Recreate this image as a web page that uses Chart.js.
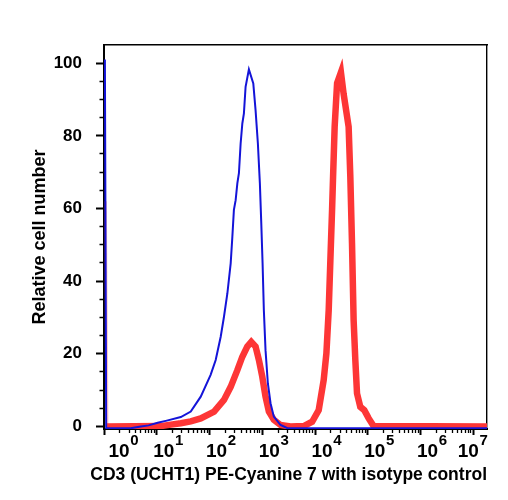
<!DOCTYPE html>
<html>
<head>
<meta charset="utf-8">
<script src="https://cdn.jsdelivr.net/npm/chart.js@4/dist/chart.umd.min.js"></script>
<style>
  html, body { margin: 0; padding: 0; background: #ffffff; }
  #wrap { width: 508px; height: 500px; }
</style>
</head>
<body>
<div id="wrap"><canvas id="c" width="508" height="500"></canvas></div>
<script>
// ---- data ----
const xDecades = [0, 1, 2, 3, 4, 5, 6, 7];          // tick labels 10^k
const yTickValues = [0,5,10,15,20,25,30,35,40,45,50,55,60,65,70,75,80,85,90,95,100];
const yLabelStep = 20;

const isotypeX = [1.04, 1.10, 3.2, 5.0, 7.0, 10.4, 15.5, 28.6, 44.1, 68.2, 105, 131, 163, 188, 218, 252, 271, 290, 313, 337, 361, 389, 419, 449, 483, 558, 676, 747, 826, 901, 958, 1014, 1072, 1153, 1276, 1435, 1657, 2218, 3000, 18200000];
const isotypeY = [101, -0.5, -0.5, 0, 0.3, 1.0, 1.6, 2.6, 4.1, 8.2, 14.2, 18.3, 24.7, 30.2, 36.6, 44.9, 52.2, 59.6, 62.3, 66.9, 69.7, 77.9, 83.4, 86.2, 93.5, 98.3, 94.4, 87, 77.9, 66.9, 55.9, 44.9, 32, 21, 11.9, 6.4, 2.7, 0.4, -0.5, -0.5];

const cd3X = [1.06, 1.14, 11.9, 18.5, 28.6, 44.1, 68.2, 122, 188, 252, 337, 419, 520, 619, 747, 863, 1000, 1153, 1334, 1657, 2218, 3428, 6114, 8810, 11750, 14600, 16430, 18170, 19550, 21050, 21990, 23570, 26200, 31000, 34900, 43370, 46700, 50260, 53920, 58070, 62520, 72140, 85900, 103500, 128700, 18200000];
const cd3Y = [62, 0, 0.1, 0.5, 0.9, 1.4, 2.2, 4.1, 7.3, 10.9, 15.5, 19.2, 22, 23.3, 22, 18.3, 13.7, 8.2, 4.1, 1.8, 0.4, 0, 0.1, 1.3, 4.5, 12.8, 20.1, 32, 45.8, 59.6, 68.7, 82.5, 94.5, 97.5, 91.5, 82.5, 68.7, 50.4, 29.3, 18.3, 9.1, 5.4, 4.5, 2.3, 0.1, 0];

const xTitle = 'CD3 (UCHT1) PE-Cyanine 7 with isotype control';
const yTitle = 'Relative cell number';

// ---- helpers ----
const FONT = '"Liberation Sans", Arial, Helvetica, sans-serif';
const X_MIN = 1, X_MAX = 18200000;
function toPoints(xs, ys) { return xs.map((x, i) => ({ x: x, y: ys[i] })); }
function isDecade(v) { const l = Math.log10(v); return Math.abs(l - Math.round(l)) < 1e-9; }

const xTicks = [];
xDecades.forEach(k => { for (let m = 1; m <= 9; m++) { const v = m * Math.pow(10, k); if (v >= X_MIN && v <= X_MAX) xTicks.push(v); } });

const decadeLabels = {
  id: 'decadeLabels',
  afterDraw(chart) {
    const sc = chart.scales.x, ctx = chart.ctx;
    ctx.save();
    ctx.fillStyle = '#000';
    ctx.textAlign = 'left';
    ctx.textBaseline = 'alphabetic';
    xDecades.forEach((k, i) => {
      const px = sc.getPixelForValue(Math.pow(10, k));
      let left = px - 3.5;
      if (i === 0) left = px + 4.5;
      if (i === xDecades.length - 1) left = px - 15.5;
      ctx.font = 'bold 19px ' + FONT;
      ctx.fillText('10', left, 457);
      const w = ctx.measureText('10').width;
      ctx.font = 'bold 15px ' + FONT;
      ctx.fillText(String(k), left + w + 0.5, 445);
    });
    ctx.restore();
  }
};

new Chart(document.getElementById('c'), {
  type: 'line',
  data: {
    datasets: [
      { label: 'Isotype control', data: toPoints(isotypeX, isotypeY), borderColor: '#1414d8', borderWidth: 2, pointRadius: 0, tension: 0, fill: false },
      { label: 'CD3 (UCHT1) PE-Cyanine 7', data: toPoints(cd3X, cd3Y), borderColor: '#fd3636', borderWidth: 6.5, pointRadius: 0, tension: 0, fill: false,
        segment: {
          borderColor: c => c.p0DataIndex === 0 ? 'rgba(253,54,54,0.3)' : undefined,
          borderWidth: c => c.p0DataIndex === 0 ? 3 : undefined
        } }
    ]
  },
  options: {
    responsive: false,
    animation: false,
    devicePixelRatio: 1,
    layout: { padding: { top: 45, right: 21, left: 0, bottom: 0 } },
    plugins: {
      legend: { display: false },
      tooltip: { enabled: false },
      title: { display: true, position: 'bottom', align: 'end', text: xTitle, color: '#000',
               font: { family: FONT, size: 17.5, weight: 'bold' }, padding: { top: 0, bottom: 14.5 } }
    },
    scales: {
      x: {
        type: 'logarithmic',
        position: 'bottom',
        min: X_MIN,
        max: X_MAX,
        afterBuildTicks: s => { s.ticks = xTicks.map(v => ({ value: v, major: isDecade(v) })); },
        afterFit: s => { s.height = 35.5; },
        ticks: { display: false, autoSkip: false },
        grid: {
          drawOnChartArea: false,
          drawTicks: true,
          tickLength: 6,
          tickColor: '#000',
          tickWidth: c => (c.tick && isDecade(c.tick.value)) ? 2 : 1.3,
          tickBorderDash: c => (c.tick && isDecade(c.tick.value)) ? [] : [3, 100],
        },
        border: { display: true, color: '#000', width: 2 }
      },
      y: {
        type: 'linear',
        position: 'left',
        min: -0.7,
        max: 105,
        afterBuildTicks: s => { s.ticks = yTickValues.map(v => ({ value: v })); },
        afterFit: s => { s.width = 104; },
        ticks: {
          autoSkip: false,
          padding: 14,
          color: '#000',
          font: { family: FONT, size: 17, weight: 'bold' },
          callback: v => (v % yLabelStep === 0) ? String(v) : ''
        },
        grid: {
          drawOnChartArea: false,
          drawTicks: true,
          tickLength: 8,
          tickColor: '#000',
          tickWidth: c => (c.tick && c.tick.value % yLabelStep === 0) ? 2 : 1.3,
          tickBorderDash: c => (c.tick && c.tick.value % yLabelStep === 0) ? [] : [0, 3.5, 4.5, 100],
        },
        border: { display: true, color: '#000', width: 2 },
        title: { display: true, text: yTitle, color: '#000', font: { family: FONT, size: 18, weight: 'bold' }, padding: { top: 29, bottom: 0 } }
      },
      xTop: {
        type: 'linear', position: 'top', display: true,
        afterFit: s => { s.height = 0; },
        ticks: { display: false },
        grid: { display: false, drawTicks: false, drawOnChartArea: false },
        border: { display: true, color: '#000', width: 1.4 }
      },
      yRight: {
        type: 'linear', position: 'right', display: true,
        afterFit: s => { s.width = 0; },
        ticks: { display: false },
        grid: { display: false, drawTicks: false, drawOnChartArea: false },
        border: { display: true, color: '#000', width: 1.4 }
      }
    }
  },
  plugins: [decadeLabels]
});
</script>
</body>
</html>
